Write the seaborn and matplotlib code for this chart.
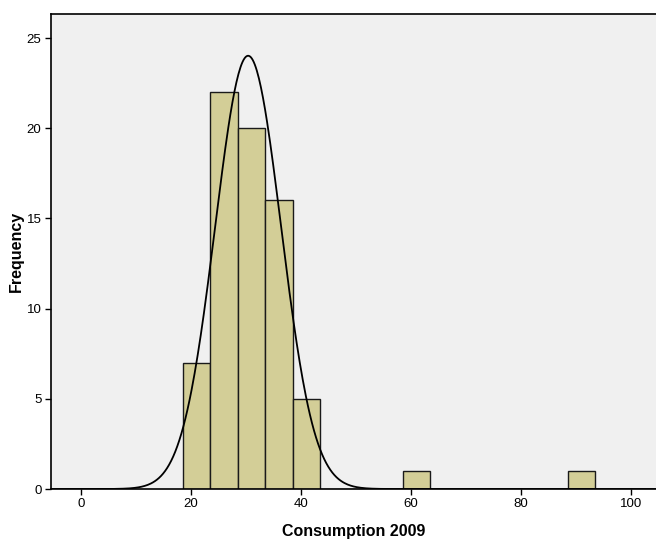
import numpy as np
import pandas as pd
import seaborn as sns
import matplotlib
matplotlib.use("Agg")
import matplotlib.pyplot as plt

# Histogram of consumption in 2009 (bin width 5, starting at 18.5)
bin_centers = [21, 26, 31, 36, 41, 61, 91]
counts = [7, 22, 20, 16, 5, 1, 1]
bin_start = 18.5
bin_width = 5.0
bin_end = 93.5

# Fitted normal curve parameters
curve_mean = 30.4
curve_sd = 5.98

x_ticks = [0, 20, 40, 60, 80, 100]
y_ticks = [0, 5, 10, 15, 20, 25]

sns.set_theme(style="white")
plt.rcParams["font.family"] = ["Liberation Sans", "DejaVu Sans"]
plt.rcParams["text.color"] = "black"
plt.rcParams["axes.labelcolor"] = "black"

fig = plt.figure(figsize=(6.56, 5.41), dpi=100)
ax = fig.add_axes([0.077, 0.0961, 0.923, 0.878])
ax.set_facecolor("#F0F0F0")

df = pd.DataFrame({"consumption": bin_centers, "count": counts})
sns.histplot(data=df, x="consumption", weights="count",
             binwidth=bin_width, binrange=(bin_start, bin_end),
             color="#D3CE97", edgecolor="#1a1a1a", linewidth=1.0,
             alpha=1.0, ax=ax)

n_total = sum(counts)
xs = np.linspace(-6, 105, 600)
ys = n_total * bin_width / (curve_sd * np.sqrt(2 * np.pi)) * \
    np.exp(-0.5 * ((xs - curve_mean) / curve_sd) ** 2)
sns.lineplot(x=xs, y=ys, color="black", linewidth=1.3, ax=ax)

ax.set_xlim(-5.5, 104.5)
ax.set_ylim(0, 26.33)
ax.set_xticks(x_ticks)
ax.set_yticks(y_ticks)
ax.tick_params(axis="both", which="major", direction="out", length=4.5,
               width=1.0, color="black", labelsize=9.5, pad=2,
               labelcolor="black")
ax.tick_params(bottom=True, left=True)

for side in ["left", "bottom", "top"]:
    ax.spines[side].set_visible(True)
    ax.spines[side].set_color("black")
    ax.spines[side].set_linewidth(1.2)
ax.spines["right"].set_visible(False)

ax.set_xlabel("Consumption 2009", fontsize=11.5, fontweight="bold",
              labelpad=10, color="black")
ax.set_ylabel("Frequency", fontsize=11.5, fontweight="bold",
              labelpad=2, color="black")
ax.grid(False)

fig.savefig("out.png", dpi=100, facecolor="white")
